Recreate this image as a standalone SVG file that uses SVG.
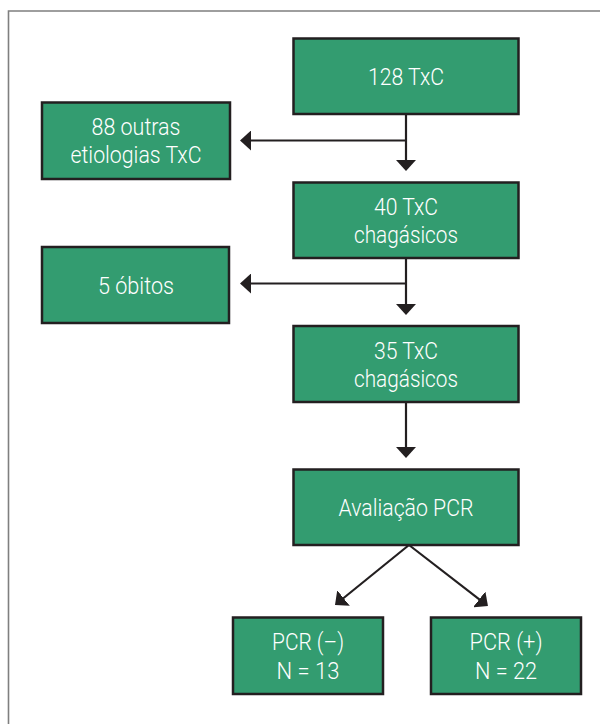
<svg xmlns="http://www.w3.org/2000/svg" width="600" height="724" viewBox="0 0 600 724">
<style>
.box{fill:#339c70;stroke:#231f20;stroke-width:2.5}
.t{font-family:Roboto,"Liberation Sans",sans-serif;font-size:23px;font-weight:300;fill:#ffffff;text-anchor:middle}
.c{stroke:#231f20;stroke-width:2.2;fill:none}
.frame{stroke:#7f7f7f;stroke-width:1.6;fill:none}
</style>
<defs>
<marker id="ah" viewBox="0 0 11 20" refX="7" refY="10" markerWidth="11" markerHeight="20" markerUnits="userSpaceOnUse" orient="auto">
<path d="M0,0 L11,10 L0,20 Z" fill="#231f20"/>
</marker>
</defs>
<rect width="600" height="724" fill="#ffffff"/>
<path class="frame" d="M8.5,724 V11 H600"/>
<g id="connectors">
<path class="c" d="M406,114 V167" marker-end="url(#ah)"/>
<path class="c" d="M406,140.5 H244" marker-end="url(#ah)"/>
<path class="c" d="M406,258 V311" marker-end="url(#ah)"/>
<path class="c" d="M406,283.5 H244" marker-end="url(#ah)"/>
<path class="c" d="M406,402 V454" marker-end="url(#ah)"/>
<path class="c" d="M409,545 L338.1,602.5" marker-end="url(#ah)"/>
<path class="c" d="M409,545 L484.8,603.6" marker-end="url(#ah)"/>
</g>
<g id="n128">
<rect class="box" x="293.5" y="38.5" width="225" height="75.5"/>
<text class="t" x="406" y="85" textLength="76" lengthAdjust="spacingAndGlyphs">128 TxC</text>
</g>
<g id="n88">
<rect class="box" x="42" y="102.5" width="188" height="76.5"/>
<text class="t" x="136" y="135" textLength="89" lengthAdjust="spacingAndGlyphs">88 outras</text>
<text class="t" x="136" y="163" textLength="131" lengthAdjust="spacingAndGlyphs">etiologias TxC</text>
</g>
<g id="n40">
<rect class="box" x="293.5" y="182.5" width="225" height="75.5"/>
<text class="t" x="406" y="215" textLength="64" lengthAdjust="spacingAndGlyphs">40 TxC</text>
<text class="t" x="406" y="243" textLength="104" lengthAdjust="spacingAndGlyphs">chagásicos</text>
</g>
<g id="n5">
<rect class="box" x="42" y="247" width="187" height="76"/>
<text class="t" x="136" y="294" textLength="76" lengthAdjust="spacingAndGlyphs">5 óbitos</text>
</g>
<g id="n35">
<rect class="box" x="293.5" y="326" width="225" height="76"/>
<text class="t" x="406" y="359" textLength="64" lengthAdjust="spacingAndGlyphs">35 TxC</text>
<text class="t" x="406" y="387" textLength="104" lengthAdjust="spacingAndGlyphs">chagásicos</text>
</g>
<g id="naval">
<rect class="box" x="293.5" y="469.5" width="225" height="75.5"/>
<text class="t" x="406" y="516" textLength="135" lengthAdjust="spacingAndGlyphs">Avaliação PCR</text>
</g>
<g id="nneg">
<rect class="box" x="233" y="617.5" width="150" height="76.5"/>
<text class="t" x="308" y="650" textLength="72" lengthAdjust="spacingAndGlyphs">PCR (–)</text>
<text class="t" x="308" y="679" textLength="63" lengthAdjust="spacingAndGlyphs">N = 13</text>
</g>
<g id="npos">
<rect class="box" x="431" y="617.5" width="150" height="76.5"/>
<text class="t" x="506" y="650" textLength="73" lengthAdjust="spacingAndGlyphs">PCR (+)</text>
<text class="t" x="506" y="679" textLength="62" lengthAdjust="spacingAndGlyphs">N = 22</text>
</g>
</svg>
